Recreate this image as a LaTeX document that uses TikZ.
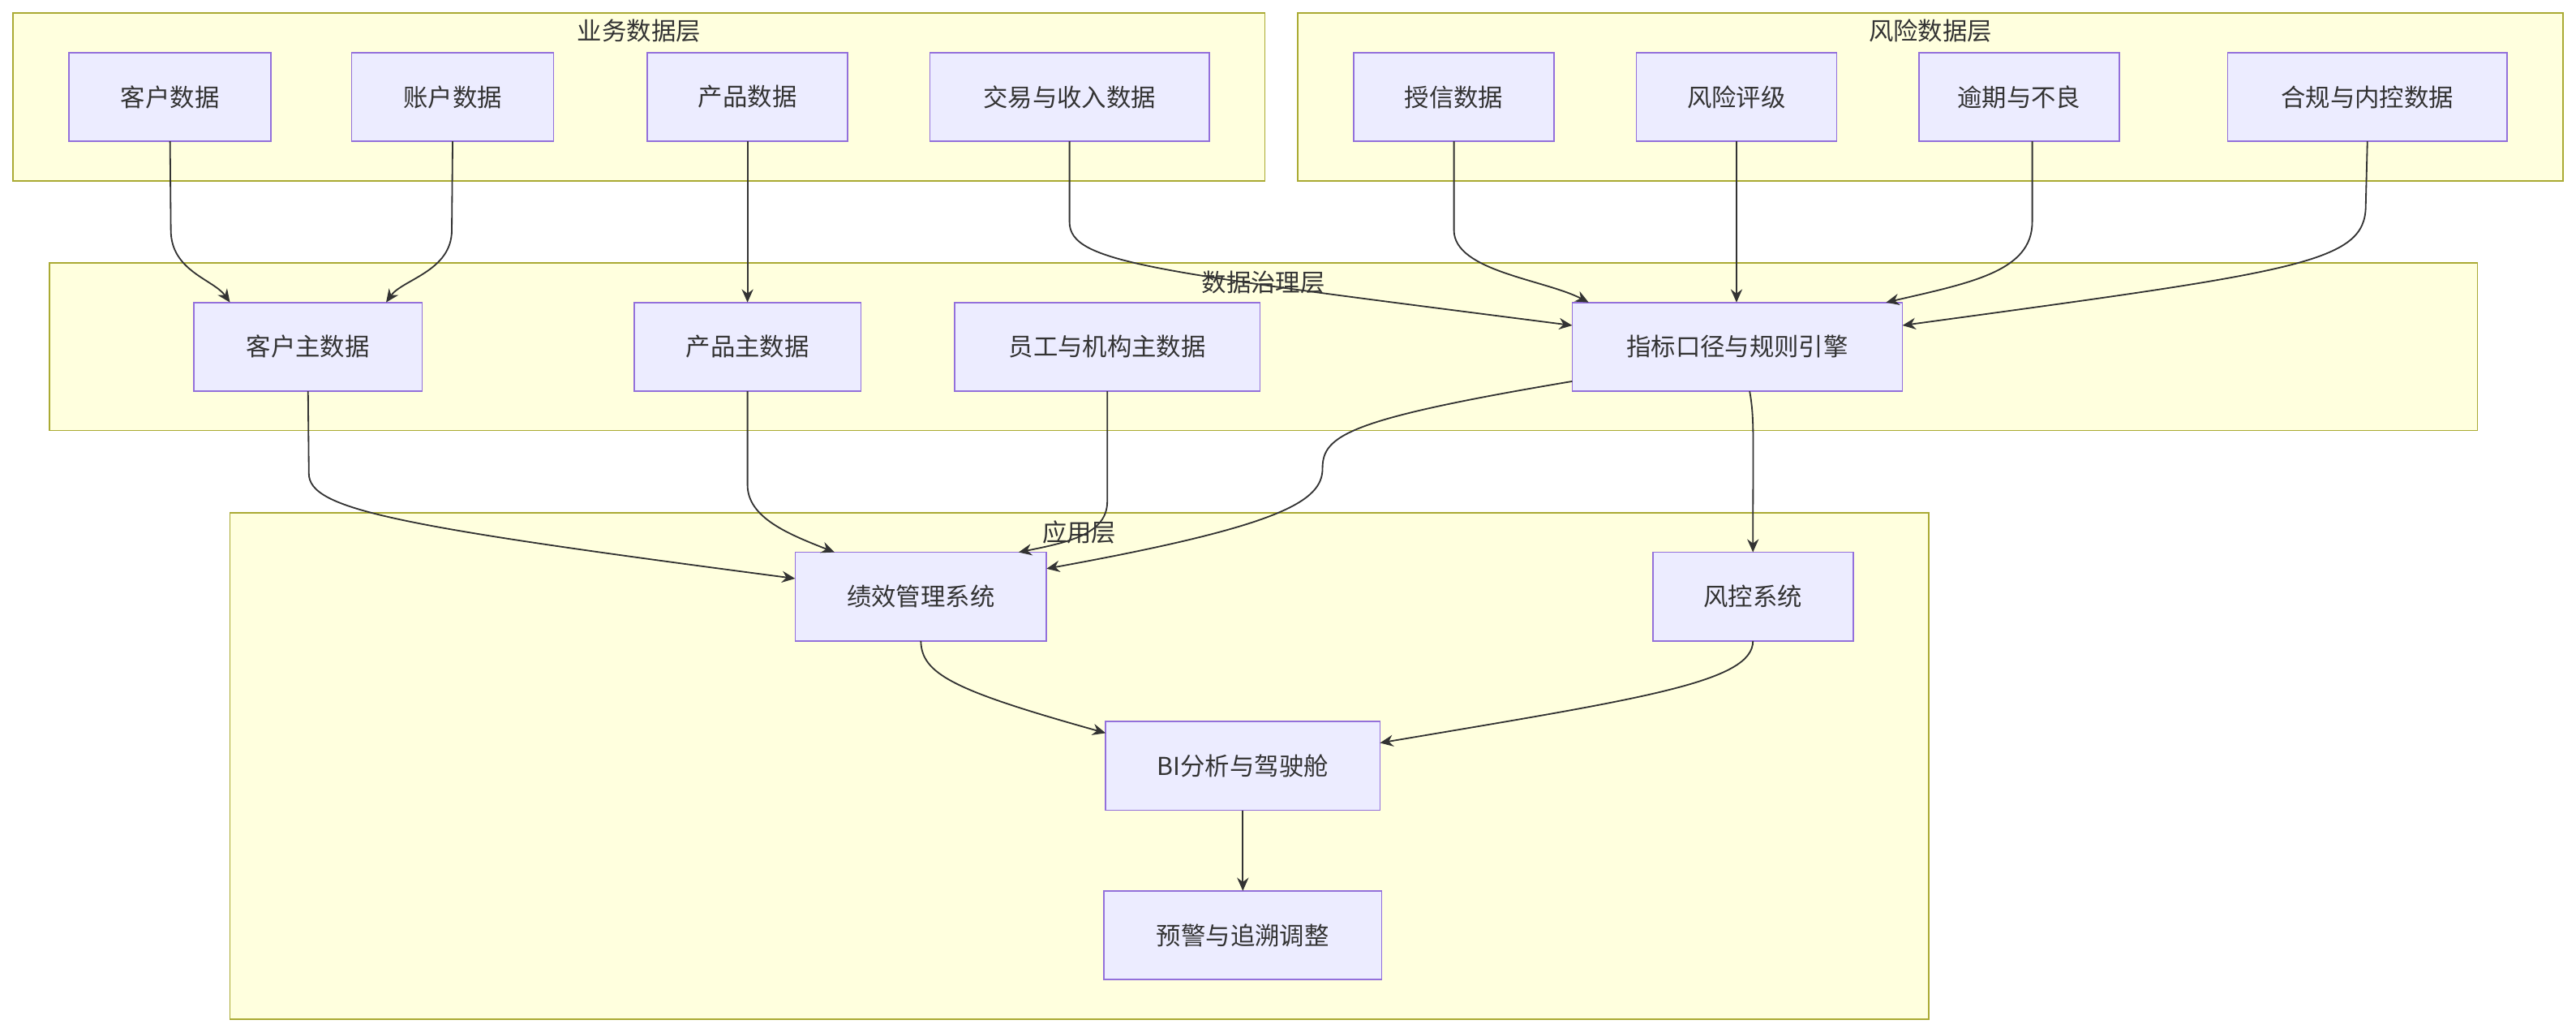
\documentclass[tikz,border=0pt]{standalone}
\usepackage{fontspec}
\setmainfont{Noto Sans CJK SC}
\usetikzlibrary{arrows.meta}
\begin{document}
\begin{tikzpicture}[x=1pt,y=-1pt,
  cl/.style={draw={rgb,255:red,170;green,170;blue,51}, fill={rgb,255:red,255;green,255;blue,222}, line width=0.8pt},
  cllab/.style={font=\fontsize{15}{15}\selectfont, text={rgb,255:red,51;green,51;blue,51}},
  nd/.style={draw={rgb,255:red,147;green,112;blue,219}, fill={rgb,255:red,236;green,236;blue,255}, line width=0.8pt, font=\fontsize{15}{15}\selectfont, text={rgb,255:red,51;green,51;blue,51}},
  ed/.style={draw={rgb,255:red,51;green,51;blue,51}, line width=0.9pt, -{Stealth[length=8pt,width=7pt]}}]
\useasboundingbox (0,0) rectangle (1568,628);
\fill[white] (0,0) rectangle (1568,628);
\draw[cl] (8,8) rectangle (770,110);
\draw[cl] (790,8) rectangle (1560,110);
\draw[cl] (30,160) rectangle (1508,262);
\draw[cl] (140,312) rectangle (1174,620);
\node[cllab] (l1) at (389,19) {业务数据层};
\node[cllab] (l2) at (1175,19) {风险数据层};
\node[cllab] (l3) at (769,172) {数据治理层};
\node[cllab] (l4) at (657,324) {应用层};
\newcommand{\bx}[6]{\draw[nd] (#2,#3) rectangle (#4,#5); \node[nd,draw=none,fill=none] (#1) at ({(#2+#4)/2},{(#3+#5)/2}) {#6};
 \coordinate (#1-n) at ({(#2+#4)/2},#3); \coordinate (#1-s) at ({(#2+#4)/2},#5);}
\bx{a1}{42}{32}{165}{86}{客户数据}
\bx{a2}{214}{32}{337}{86}{账户数据}
\bx{a3}{394}{32}{516}{86}{产品数据}
\bx{a4}{566}{32}{736}{86}{交易与收入数据}
\bx{r1}{824}{32}{946}{86}{授信数据}
\bx{r2}{996}{32}{1118}{86}{风险评级}
\bx{r3}{1168}{32}{1290}{86}{逾期与不良}
\bx{r4}{1356}{32}{1526}{86}{合规与内控数据}
\bx{g1}{118}{184}{257}{238}{客户主数据}
\bx{g2}{386}{184}{524}{238}{产品主数据}
\bx{g3}{581}{184}{767}{238}{员工与机构主数据}
\bx{g4}{957}{184}{1158}{238}{指标口径与规则引擎}
\bx{p1}{484}{336}{637}{390}{绩效管理系统}
\bx{p2}{1006}{336}{1128}{390}{风控系统}
\bx{p3}{673}{439}{840}{493}{BI分析与驾驶舱}
\bx{p4}{672}{542}{841}{596}{预警与追溯调整}
\draw[ed] (a1-s) -- (104,140) .. controls (104,165) and (130,170) .. (140,184);
\draw[ed] (a2-s) -- (275,140) .. controls (275,165) and (245,170) .. (235,184);
\draw[ed] (a3-s) -- (g2-n);
\draw[ed] (a4-s) -- (651,135) .. controls (651,160) and (700,165) .. (957,198);
\draw[ed] (r1-s) -- (885,140) .. controls (885,165) and (940,170) .. (967,184);
\draw[ed] (r2-s) -- (1057,184);
\draw[ed] ([xshift=8pt]r3-s) -- (1237,135) .. controls (1237,165) and (1200,172) .. (1148,184);
\draw[ed] (r4-s) -- (1440,125) .. controls (1440,160) and (1400,165) .. (1158,198);
\draw[ed] (g1-s) -- (188,288) .. controls (188,310) and (240,320) .. (484,352);
\draw[ed] (g2-s) -- (455,295) .. controls (455,315) and (480,325) .. (508,336);
\draw[ed] (674,238) -- (674,305) .. controls (674,325) and (650,330) .. (620,336);
\draw[ed] (957,232) .. controls (820,255) and (805,265) .. (805,285) .. controls (805,305) and (780,320) .. (637,346);
\draw[ed] (1065,238) .. controls (1068,255) and (1067,265) .. (1067,336);
\draw[ed] (p1-s) .. controls (561,410) and (580,420) .. (673,446);
\draw[ed] (p2-s) .. controls (1067,415) and (1000,425) .. (840,452);
\draw[ed] (p3-s) -- (p4-n);
\end{tikzpicture}
\end{document}
